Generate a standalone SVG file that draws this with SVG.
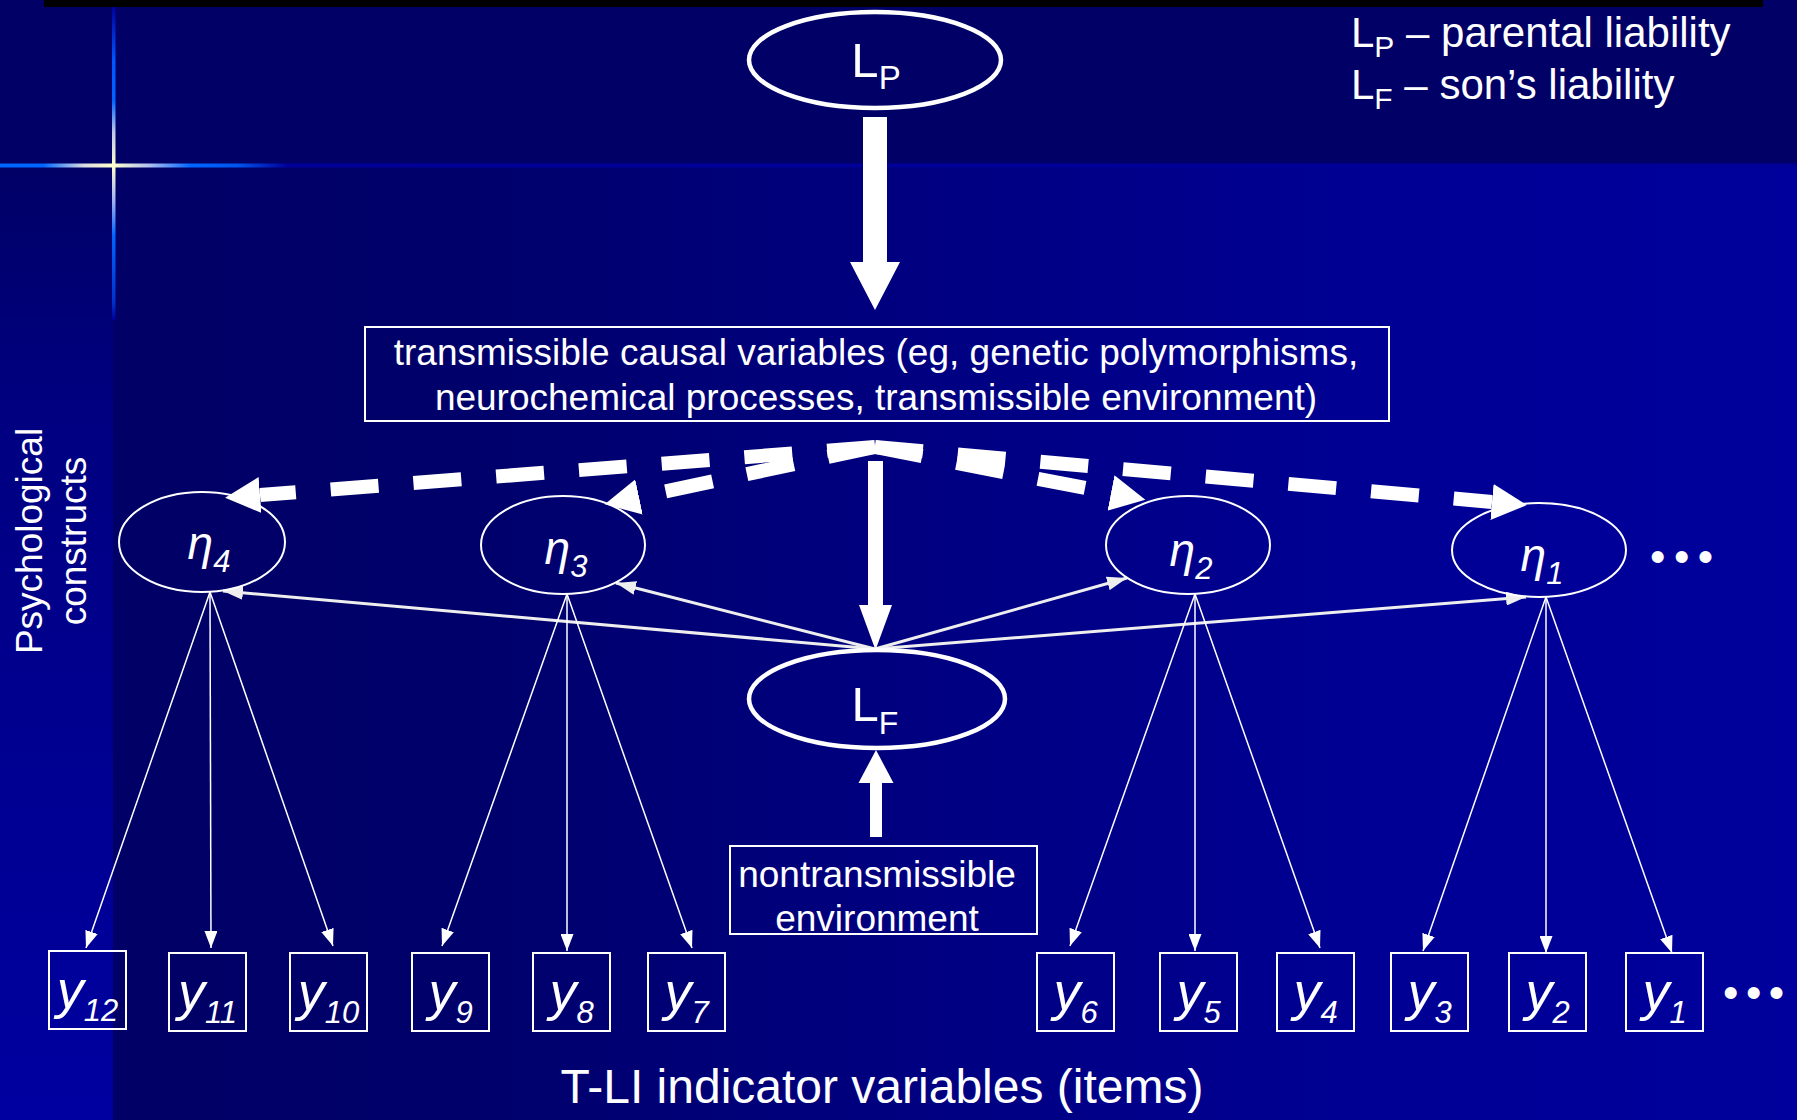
<svg xmlns="http://www.w3.org/2000/svg" width="1797" height="1120" viewBox="0 0 1797 1120">
<style>
.t{font-family:"Liberation Sans",Arial,sans-serif;fill:#fff}
.it{font-style:italic}
.box{fill:none;stroke:#fff;stroke-width:2}
.eta{fill:none;stroke:#fff;stroke-width:2}
.big{fill:none;stroke:#fff;stroke-width:4.5}
.dash{fill:none;stroke:#fff;stroke-width:14;stroke-dasharray:48 35}
.thin{fill:none;stroke:#fff;stroke-width:1.5}
.mid{fill:none;stroke:#eee;stroke-width:3}
.solid{fill:#fff}
</style>
<defs>
<linearGradient id="gMain" gradientUnits="userSpaceOnUse" x1="113" y1="0" x2="1797" y2="0">
<stop offset="0" stop-color="#000066"/>
<stop offset="0.2" stop-color="#00006a"/>
<stop offset="0.47" stop-color="#000080"/>
<stop offset="0.77" stop-color="#000095"/>
<stop offset="1" stop-color="#00009c"/>
</linearGradient>
<linearGradient id="gLeft" gradientUnits="userSpaceOnUse" x1="0" y1="166" x2="0" y2="1120">
<stop offset="0" stop-color="#000066"/>
<stop offset="0.25" stop-color="#000080"/>
<stop offset="0.55" stop-color="#00008e"/>
<stop offset="1" stop-color="#0000a0"/>
</linearGradient>
<linearGradient id="gH" gradientUnits="userSpaceOnUse" x1="0" y1="0" x2="1797" y2="0">
<stop offset="0" stop-color="#0066ff"/>
<stop offset="0.024" stop-color="#0066ff"/>
<stop offset="0.047" stop-color="#dddde0"/>
<stop offset="0.063" stop-color="#ffffcc"/>
<stop offset="0.083" stop-color="#b0c0f0"/>
<stop offset="0.106" stop-color="#0066ff"/>
<stop offset="0.132" stop-color="#0055ee"/>
<stop offset="0.16" stop-color="#000099"/>
<stop offset="1" stop-color="#000099"/>
</linearGradient>
<linearGradient id="gV" gradientUnits="userSpaceOnUse" x1="0" y1="7" x2="0" y2="320">
<stop offset="0" stop-color="#000099"/>
<stop offset="0.17" stop-color="#0055ff"/>
<stop offset="0.3" stop-color="#0066ff"/>
<stop offset="0.4" stop-color="#c0c8e8"/>
<stop offset="0.508" stop-color="#ffffcc"/>
<stop offset="0.62" stop-color="#a0b0f0"/>
<stop offset="0.73" stop-color="#0066ff"/>
<stop offset="0.94" stop-color="#0033cc"/>
<stop offset="1" stop-color="#000099"/>
</linearGradient>
<marker id="hThin" markerUnits="userSpaceOnUse" markerWidth="17" markerHeight="13" refX="17" refY="6.5" orient="auto"><path d="M0,0 L17,6.5 L0,13 z" fill="#fff"/></marker>
<marker id="hMid" markerUnits="userSpaceOnUse" markerWidth="20" markerHeight="14" refX="20" refY="7" orient="auto"><path d="M0,0 L20,7 L0,14 z" fill="#eee"/></marker>
<marker id="hBig" markerUnits="userSpaceOnUse" markerWidth="36" markerHeight="36" refX="0" refY="18" orient="auto"><path d="M0,0 L35,18 L0,36 z" fill="#fff"/></marker>
</defs>

<!-- background -->
<rect x="0" y="0" width="1797" height="1120" fill="#000066"/>
<rect x="113" y="166" width="1684" height="954" fill="url(#gMain)"/>
<rect x="0" y="166" width="113" height="954" fill="url(#gLeft)"/>
<rect x="0" y="0" width="1797" height="166" fill="#000066"/>
<rect x="44" y="0" width="1719" height="7" fill="#000"/>
<rect x="0" y="163.5" width="1797" height="4" fill="url(#gH)"/>
<rect x="112" y="7" width="3.5" height="313" fill="url(#gV)"/>

<!-- legend -->
<g id="legend">
<text class="t" x="1351" y="47" font-size="42">L<tspan font-size="30" dy="10">P</tspan><tspan dy="-10"> – parental liability</tspan></text>
<text class="t" x="1351" y="99" font-size="42">L<tspan font-size="30" dy="10">F</tspan><tspan dy="-10"> – son’s liability</tspan></text>
</g>

<text class="t" transform="translate(42,541) rotate(-90)" font-size="37" text-anchor="middle">Psychological</text>
<text class="t" transform="translate(86,541) rotate(-90)" font-size="37" text-anchor="middle">constructs</text>

<!-- connectors -->
<g id="connectors">
<polygon class="solid" points="863,117 887,117 887,262 900,262 875,310 850,262 863,262"/>
<polygon class="solid" points="868,461 883,461 883,605 892,605 875.5,650 859,605 868,605"/>
<polygon class="solid" points="870,837 882,837 882,783 893.5,783 876,750 858.5,783 870,783"/>
<path class="dash" d="M875,447 L260,495" marker-end="url(#hBig)"/>
<path class="dash" d="M875,447 L639,497" marker-end="url(#hBig)"/>
<path class="dash" d="M875,447 L1111,493" marker-end="url(#hBig)"/>
<path class="dash" d="M875,447 L1492,502" marker-end="url(#hBig)"/>
<path class="mid" d="M875,649 L223,591" marker-end="url(#hMid)"/>
<path class="mid" d="M875,649 L616,583" marker-end="url(#hMid)"/>
<path class="mid" d="M875,649 L1127,578" marker-end="url(#hMid)"/>
<path class="mid" d="M875,649 L1526,597" marker-end="url(#hMid)"/>
<path class="thin" d="M210,592 L86,948" marker-end="url(#hThin)"/>
<path class="thin" d="M210,592 L211,948" marker-end="url(#hThin)"/>
<path class="thin" d="M210,592 L333,946" marker-end="url(#hThin)"/>
<path class="thin" d="M567,594 L442,946" marker-end="url(#hThin)"/>
<path class="thin" d="M567,594 L567,951" marker-end="url(#hThin)"/>
<path class="thin" d="M567,594 L692,948" marker-end="url(#hThin)"/>
<path class="thin" d="M1195,594 L1070,946" marker-end="url(#hThin)"/>
<path class="thin" d="M1195,594 L1195,951" marker-end="url(#hThin)"/>
<path class="thin" d="M1195,594 L1320,948" marker-end="url(#hThin)"/>
<path class="thin" d="M1546,597 L1423,951" marker-end="url(#hThin)"/>
<path class="thin" d="M1546,597 L1546,953" marker-end="url(#hThin)"/>
<path class="thin" d="M1546,597 L1672,953" marker-end="url(#hThin)"/>
</g>

<!-- nodes -->
<g id="LP">
<ellipse class="big" cx="875" cy="60" rx="126" ry="48"/>
<text class="t" x="876" y="77" font-size="49" text-anchor="middle">L<tspan font-size="33" dy="12">P</tspan></text>
</g>
<g id="transmissible">
<rect class="box" x="365" y="327" width="1024" height="94"/>
<text class="t" x="876" y="365" font-size="37" text-anchor="middle">transmissible causal variables (eg, genetic polymorphisms,</text>
<text class="t" x="876" y="410" font-size="37" text-anchor="middle">neurochemical processes, transmissible environment)</text>
</g>
<g id="eta4">
<ellipse class="eta" cx="202" cy="542" rx="83" ry="50"/>
<text class="t it" x="209" y="559" font-size="46" text-anchor="middle">η<tspan font-size="31" dy="13">4</tspan></text>
</g>
<g id="eta3">
<ellipse class="eta" cx="563" cy="545" rx="82" ry="49"/>
<text class="t it" x="566" y="564" font-size="46" text-anchor="middle">η<tspan font-size="31" dy="13">3</tspan></text>
</g>
<g id="eta2">
<ellipse class="eta" cx="1188" cy="545" rx="82" ry="49"/>
<text class="t it" x="1191" y="566" font-size="46" text-anchor="middle">η<tspan font-size="31" dy="13">2</tspan></text>
</g>
<g id="eta1">
<ellipse class="eta" cx="1539" cy="550" rx="87" ry="47"/>
<text class="t it" x="1542" y="571" font-size="46" text-anchor="middle">η<tspan font-size="31" dy="13">1</tspan></text>
</g>
<text class="t" x="1650" y="572" font-size="44" letter-spacing="8.5">•••</text>
<g id="LF">
<ellipse class="big" cx="877" cy="699" rx="128" ry="49"/>
<text class="t" x="875" y="721" font-size="49" text-anchor="middle">L<tspan font-size="32" dy="13">F</tspan></text>
</g>
<g id="nontransmissible">
<rect class="box" x="730" y="846" width="307" height="88"/>
<text class="t" x="877" y="887" font-size="37" text-anchor="middle">nontransmissible</text>
<text class="t" x="877" y="931" font-size="37" text-anchor="middle">environment</text>
</g>

<g id="y12"><rect class="box" x="49" y="951" width="77" height="78"/><text class="t it" x="87.5" y="1008" font-size="54" text-anchor="middle">y<tspan font-size="31" dy="13">12</tspan></text></g>
<g id="y11"><rect class="box" x="169" y="953" width="77" height="78"/><text class="t it" x="207.5" y="1010" font-size="54" text-anchor="middle">y<tspan font-size="31" dy="13">11</tspan></text></g>
<g id="y10"><rect class="box" x="290" y="953" width="77" height="78"/><text class="t it" x="328.5" y="1010" font-size="54" text-anchor="middle">y<tspan font-size="31" dy="13">10</tspan></text></g>
<g id="y9"><rect class="box" x="412" y="953" width="77" height="78"/><text class="t it" x="450.5" y="1010" font-size="54" text-anchor="middle">y<tspan font-size="31" dy="13">9</tspan></text></g>
<g id="y8"><rect class="box" x="533" y="953" width="77" height="78"/><text class="t it" x="571.5" y="1010" font-size="54" text-anchor="middle">y<tspan font-size="31" dy="13">8</tspan></text></g>
<g id="y7"><rect class="box" x="648" y="953" width="77" height="78"/><text class="t it" x="686.5" y="1010" font-size="54" text-anchor="middle">y<tspan font-size="31" dy="13">7</tspan></text></g>
<g id="y6"><rect class="box" x="1037" y="953" width="77" height="78"/><text class="t it" x="1075.5" y="1010" font-size="54" text-anchor="middle">y<tspan font-size="31" dy="13">6</tspan></text></g>
<g id="y5"><rect class="box" x="1160" y="953" width="77" height="78"/><text class="t it" x="1198.5" y="1010" font-size="54" text-anchor="middle">y<tspan font-size="31" dy="13">5</tspan></text></g>
<g id="y4"><rect class="box" x="1277" y="953" width="77" height="78"/><text class="t it" x="1315.5" y="1010" font-size="54" text-anchor="middle">y<tspan font-size="31" dy="13">4</tspan></text></g>
<g id="y3"><rect class="box" x="1391" y="953" width="77" height="78"/><text class="t it" x="1429.5" y="1010" font-size="54" text-anchor="middle">y<tspan font-size="31" dy="13">3</tspan></text></g>
<g id="y2"><rect class="box" x="1509" y="953" width="77" height="78"/><text class="t it" x="1547.5" y="1010" font-size="54" text-anchor="middle">y<tspan font-size="31" dy="13">2</tspan></text></g>
<g id="y1"><rect class="box" x="1626" y="953" width="77" height="78"/><text class="t it" x="1664.5" y="1010" font-size="54" text-anchor="middle">y<tspan font-size="31" dy="13">1</tspan></text></g>
<text class="t" x="1723" y="1008" font-size="44" letter-spacing="7.5">•••</text>

<text class="t" x="882" y="1103" font-size="48" text-anchor="middle">T-LI indicator variables (items)</text>
</svg>
